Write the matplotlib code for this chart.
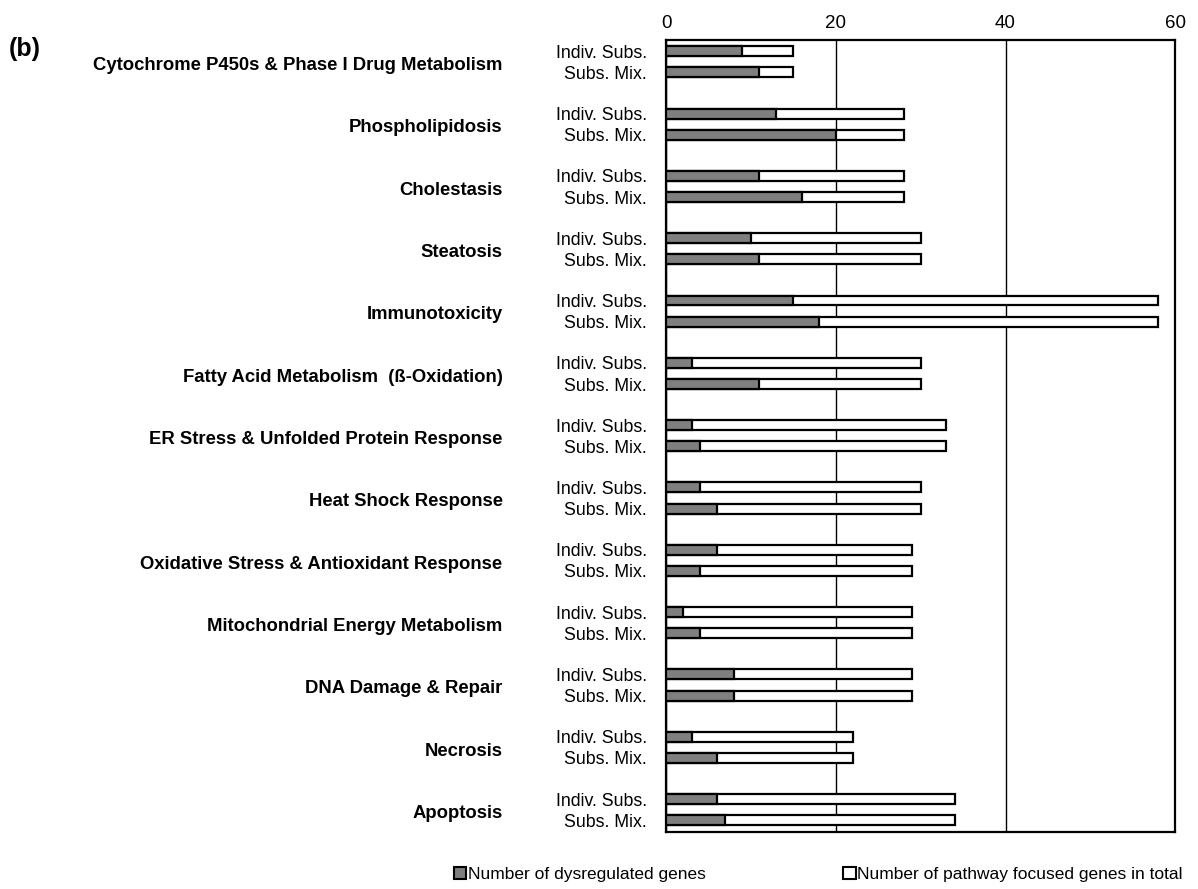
import numpy as np
import matplotlib
matplotlib.use("Agg")
import matplotlib.pyplot as plt
from matplotlib.patches import Patch
from matplotlib.transforms import blended_transform_factory

plt.rcParams['font.family'] = ['Liberation Sans', 'DejaVu Sans']

categories = [
    "Cytochrome P450s & Phase I Drug Metabolism",
    "Phospholipidosis",
    "Cholestasis",
    "Steatosis",
    "Immunotoxicity",
    "Fatty Acid Metabolism  (ß-Oxidation)",
    "ER Stress & Unfolded Protein Response",
    "Heat Shock Response",
    "Oxidative Stress & Antioxidant Response",
    "Mitochondrial Energy Metabolism",
    "DNA Damage & Repair",
    "Necrosis",
    "Apoptosis",
]
sub_labels = ["Indiv. Subs.", "Subs. Mix."]

total_genes = [15, 28, 28, 30, 58, 30, 33, 30, 29, 29, 29, 22, 34]
dysreg_indiv = [9, 13, 11, 10, 15, 3, 3, 4, 6, 2, 8, 3, 6]
dysreg_mix = [11, 20, 16, 11, 18, 11, 4, 6, 4, 4, 8, 6, 7]

fig = plt.figure(figsize=(11.98, 8.89), dpi=100)
ax = fig.add_axes([0.556, 0.064, 0.425, 0.891])

y = np.arange(len(categories))
off = 0.17
h = 0.16
dark = '#7f7f7f'

for pos, dys in [(y - off, dysreg_indiv), (y + off, dysreg_mix)]:
    ax.barh(pos, total_genes, height=h, color='white', edgecolor='black', linewidth=1.6, zorder=3)
    ax.barh(pos, dys, height=h, color=dark, edgecolor='black', linewidth=1.6, zorder=4)

ax.set_xlim(0, 60)
ax.set_ylim(len(categories) - 1 + 0.36, -0.35)
ax.set_xticks([0, 20, 40, 60])
ax.xaxis.tick_top()
ax.tick_params(axis='x', length=0, labelsize=13.5, pad=6)
ax.grid(axis='x', color='black', linewidth=1.0, zorder=0)

ticks = np.concatenate([y - off, y + off])
labels = [sub_labels[0]] * len(y) + [sub_labels[1]] * len(y)
ax.set_yticks(ticks)
ax.set_yticklabels(labels, fontsize=12.8)
ax.tick_params(axis='y', length=0, pad=14)

for s in ax.spines.values():
    s.set_linewidth(1.6)

trans = blended_transform_factory(fig.transFigure, ax.transData)
for i, c in enumerate(categories):
    fig.text(0.4195, i + 0.06, c, transform=trans, ha='right', va='center',
             fontsize=13.3, fontweight='bold')

fig.text(0.007, 0.945, "(b)", fontsize=18, fontweight='bold', va='center')

handles = [Patch(facecolor=dark, edgecolor='black', linewidth=1.5),
           Patch(facecolor='white', edgecolor='black', linewidth=1.5)]
fig.legend(handles, ["Number of dysregulated genes", "Number of pathway focused genes in total"],
           loc='center', bbox_to_anchor=(0.683, 0.016), ncol=2, frameon=False,
           fontsize=12.5, handlelength=0.7, handleheight=0.7, handletextpad=0.1,
           columnspacing=7.95)

fig.savefig("out.png", dpi=100)
